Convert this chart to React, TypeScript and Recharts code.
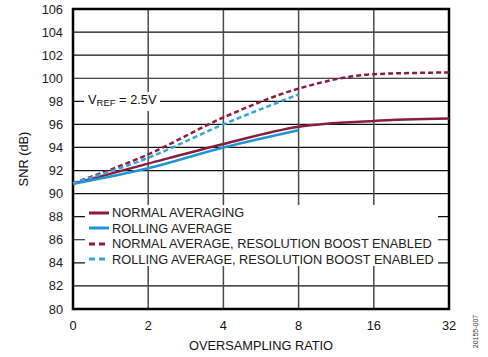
import { LineChart, Line, XAxis, YAxis, CartesianGrid, ReferenceArea } from 'recharts';

const ratios = ['0', '2', '4', '8', '16', '32'];
const normalAvg = [90.85, 92.6, 94.3, 95.8, 96.3, 96.5];
const rollingAvg = [90.85, 92.2, 94.0, 95.5, null, null];
const normalBoost = [90.9, 93.4, 96.6, 99.1, 100.35, 100.5];
const rollingBoost = [90.9, 93.1, 96.0, 98.6, null, null];
const yTicks = [80, 82, 84, 86, 88, 90, 92, 94, 96, 98, 100, 102, 104, 106];

const MAROON = '#8A1C3F';
const BLUE = '#1F95D3';
const LIGHT_BLUE = '#36A3DC';

const series = [
  { key: 'normalAvg', name: 'NORMAL AVERAGING', color: MAROON, dash: undefined },
  { key: 'rollingAvg', name: 'ROLLING AVERAGE', color: BLUE, dash: undefined },
  { key: 'normalBoost', name: 'NORMAL AVERAGE, RESOLUTION BOOST ENABLED', color: MAROON, dash: '5 3' },
  { key: 'rollingBoost', name: 'ROLLING AVERAGE, RESOLUTION BOOST ENABLED', color: LIGHT_BLUE, dash: '5 3' },
];

const data = ratios.map((ratio, i) => ({
  ratio,
  normalAvg: normalAvg[i],
  rollingAvg: rollingAvg[i],
  normalBoost: normalBoost[i],
  rollingBoost: rollingBoost[i],
}));

const font = '"Liberation Sans", Arial, sans-serif';

export default function App() {
  return (
    <div
      style={{
        position: 'absolute',
        left: 0,
        top: 0,
        width: 488,
        height: 357,
        background: '#fff',
        fontFamily: font,
      }}
    >
      <LineChart
        width={488}
        height={357}
        data={data}
        margin={{ top: 9, right: 39, left: 0, bottom: 0 }}
      >
        <CartesianGrid vertical={false} stroke="#111" strokeWidth={1.2} />
        <CartesianGrid horizontal={false} stroke="#4a4a4a" strokeWidth={1.5} />
        <XAxis
          dataKey="ratio"
          height={48}
          tickLine={false}
          axisLine={false}
          tickMargin={6}
          tick={{ fill: '#111', fontSize: 12.8, fontFamily: font }}
          label={{
            value: 'OVERSAMPLING RATIO',
            position: 'insideBottom',
            offset: 7,
            fill: '#111',
            fontSize: 12.8,
            fontFamily: font,
          }}
        />
        <YAxis
          width={73}
          domain={[80, 106]}
          ticks={yTicks}
          interval={0}
          tickLine={false}
          axisLine={false}
          tickMargin={4}
          tick={{ fill: '#222', fontSize: 12.8, fontFamily: font }}
          label={{
            content: (props: any) => {
              const vb = props.viewBox;
              const cx = vb.x + 23;
              const cy = vb.y + vb.height / 2;
              return (
                <text
                  x={cx}
                  y={cy}
                  transform={`rotate(-90 ${cx} ${cy})`}
                  textAnchor="middle"
                  dominantBaseline="central"
                  fill="#111"
                  fontSize={12.8}
                  fontFamily={font}
                >
                  SNR (dB)
                </text>
              );
            },
          }}
        />
        {series.map((s) => (
          <Line
            key={s.key}
            type="monotone"
            dataKey={s.key}
            name={s.name}
            stroke={s.color}
            strokeWidth={2.5}
            strokeDasharray={s.dash}
            dot={false}
            activeDot={false}
            connectNulls={false}
            isAnimationActive={false}
          />
        ))}
        <ReferenceArea
          x1="0"
          x2="32"
          y1={80}
          y2={106}
          fill="none"
          fillOpacity={0}
          stroke="#000"
          strokeWidth={2.5}
        />
      </LineChart>

      <div
        style={{
          position: 'absolute',
          left: 84,
          top: 92,
          padding: '0 4px',
          background: '#fff',
          fontSize: 12.8,
          lineHeight: '16px',
          color: '#111',
          whiteSpace: 'nowrap',
        }}
      >
        V<sub style={{ fontSize: 9.5, verticalAlign: '-2px' }}>REF</sub> = 2.5V
      </div>

      <div
        style={{
          position: 'absolute',
          left: 85,
          top: 205,
          width: 353,
          height: 61,
          background: '#fff',
          paddingLeft: 3,
          boxSizing: 'border-box',
        }}
      >
        {series.map((s) => (
          <div
            key={s.key}
            style={{ display: 'flex', alignItems: 'center', height: 15.5, fontSize: 12.8, color: '#222' }}
          >
            <svg width={22} height={6} style={{ marginRight: 2 }}>
              <line
                x1={1}
                y1={3}
                x2={21}
                y2={3}
                stroke={s.color}
                strokeWidth={3}
                strokeDasharray={s.dash ? '6 4' : undefined}
              />
            </svg>
            <span style={{ whiteSpace: 'nowrap' }}>{s.name}</span>
          </div>
        ))}
      </div>

      <div
        style={{
          position: 'absolute',
          left: 471,
          top: 328,
          transform: 'rotate(-90deg)',
          transformOrigin: 'center',
          fontSize: 7,
          color: '#333',
          width: 40,
          textAlign: 'center',
          marginLeft: -16,
        }}
      >
        20155-007
      </div>
    </div>
  );
}
